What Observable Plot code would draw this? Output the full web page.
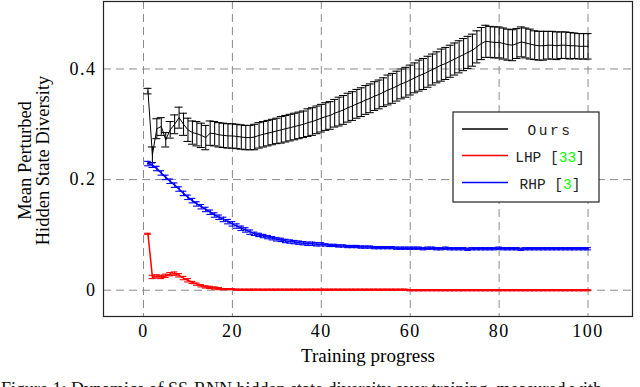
<!DOCTYPE html>
<html>
<head>
<meta charset="utf-8">
<script src="https://cdn.jsdelivr.net/npm/d3@7"></script>
<script src="https://cdn.jsdelivr.net/npm/@observablehq/plot@0.6"></script>
<style>
  html, body { margin: 0; padding: 0; background: #fff; overflow: hidden; }
  #chart svg { display: block; }
  #caption { font-family: "Liberation Serif", serif; font-size: 18px; line-height: 22px; margin: 6px 0 0 1px; white-space: nowrap; color: #111; }
</style>
</head>
<body>
<div id="chart"></div>
<div id="caption">Figure 1: Dynamics of SS-RNN hidden state diversity over training, measured with</div>
<script>
// ---- data ----
const steps = d3.range(1, 101); // training progress steps 1..100

const oursMean = [
  0.360, 0.245, 0.292, 0.296, 0.272, 0.290, 0.300, 0.312, 0.300, 0.290,
  0.285, 0.283, 0.280, 0.276, 0.284, 0.283, 0.281, 0.280, 0.279, 0.279,
  0.278, 0.277, 0.276, 0.276, 0.277, 0.280, 0.282, 0.284, 0.286, 0.288,
  0.290, 0.292, 0.294, 0.296, 0.298, 0.300, 0.303, 0.305, 0.308, 0.311,
  0.314, 0.316, 0.320, 0.323, 0.326, 0.330, 0.333, 0.337, 0.340, 0.344,
  0.347, 0.351, 0.354, 0.358, 0.362, 0.365, 0.369, 0.373, 0.376, 0.380,
  0.384, 0.388, 0.391, 0.395, 0.399, 0.403, 0.407, 0.410, 0.414, 0.418,
  0.422, 0.426, 0.430, 0.434, 0.440, 0.446, 0.450, 0.449, 0.448, 0.448,
  0.446, 0.444, 0.443, 0.446, 0.449, 0.447, 0.445, 0.443, 0.442, 0.442,
  0.443, 0.443, 0.442, 0.443, 0.443, 0.442, 0.442, 0.441, 0.441, 0.441
];
const oursErr = [
  0.005, 0.014, 0.018, 0.016, 0.013, 0.015, 0.017, 0.019, 0.020, 0.021,
  0.021, 0.022, 0.022, 0.022, 0.022, 0.022, 0.022, 0.022, 0.022, 0.022,
  0.022, 0.022, 0.022, 0.022, 0.023, 0.023, 0.023, 0.023, 0.023, 0.023,
  0.024, 0.024, 0.024, 0.024, 0.024, 0.024, 0.025, 0.025, 0.025, 0.025,
  0.025, 0.025, 0.025, 0.026, 0.026, 0.026, 0.026, 0.026, 0.026, 0.026,
  0.026, 0.026, 0.026, 0.026, 0.027, 0.027, 0.027, 0.027, 0.027, 0.027,
  0.027, 0.028, 0.028, 0.028, 0.028, 0.028, 0.029, 0.029, 0.029, 0.029,
  0.029, 0.029, 0.029, 0.029, 0.029, 0.029, 0.029, 0.028, 0.028, 0.028,
  0.028, 0.028, 0.028, 0.027, 0.027, 0.027, 0.027, 0.026, 0.026, 0.026,
  0.025, 0.025, 0.025, 0.024, 0.024, 0.024, 0.023, 0.023, 0.023, 0.023
];
const lhpMean = [
  0.102, 0.024, 0.025, 0.024, 0.026, 0.029, 0.030, 0.027, 0.022, 0.018,
  0.014, 0.011, 0.008, 0.006, 0.005, 0.004, 0.003, 0.002, 0.002, 0.002,
  0.001, 0.001, 0.001, 0.001, 0.001, 0.001, 0.001, 0.001, 0.001, 0.001,
  0.001, 0.001, 0.001, 0.001, 0.001, 0.001, 0.001, 0.001, 0.001, 0.001,
  0.001, 0.001, 0.001, 0.001, 0.001, 0.001, 0.001, 0.001, 0.001, 0.001,
  0.001, 0.001, 0.001, 0.001, 0.001, 0.001, 0.001, 0.001, 0.001, 0.000,
  0.000, 0.000, 0.000, 0.000, 0.000, 0.000, 0.000, 0.000, 0.000, 0.000,
  0.000, 0.000, 0.000, 0.000, 0.000, 0.000, 0.000, 0.000, 0.000, 0.000,
  0.000, 0.000, 0.000, 0.000, 0.000, 0.000, 0.000, 0.000, 0.000, 0.000,
  0.000, 0.000, 0.000, 0.000, 0.000, 0.000, 0.000, 0.000, 0.000, 0.000
];
const lhpErr = [
  0.001, 0.003, 0.003, 0.003, 0.003, 0.003, 0.003, 0.003, 0.003, 0.003,
  0.002, 0.002, 0.002, 0.002, 0.002, 0.002, 0.002, 0.001, 0.001, 0.001,
  0.001, 0.001, 0.001, 0.001, 0.001, 0.001, 0.001, 0.001, 0.001, 0.001,
  0.001, 0.001, 0.001, 0.001, 0.001, 0.001, 0.001, 0.001, 0.001, 0.001,
  0.001, 0.001, 0.001, 0.001, 0.001, 0.001, 0.001, 0.001, 0.001, 0.001,
  0.001, 0.001, 0.001, 0.001, 0.001, 0.001, 0.001, 0.001, 0.001, 0.001,
  0.001, 0.001, 0.001, 0.001, 0.001, 0.001, 0.001, 0.001, 0.001, 0.001,
  0.001, 0.001, 0.001, 0.001, 0.001, 0.001, 0.001, 0.001, 0.001, 0.001,
  0.001, 0.001, 0.001, 0.001, 0.001, 0.001, 0.001, 0.001, 0.001, 0.001,
  0.001, 0.001, 0.001, 0.001, 0.001, 0.001, 0.001, 0.001, 0.001, 0.001
];
const rhpMean = [
  0.229, 0.226, 0.220, 0.212, 0.204, 0.197, 0.190, 0.183, 0.175, 0.168,
  0.162, 0.156, 0.151, 0.146, 0.141, 0.136, 0.132, 0.128, 0.124, 0.120,
  0.116, 0.112, 0.109, 0.105, 0.102, 0.100, 0.098, 0.096, 0.094, 0.092,
  0.091, 0.089, 0.088, 0.087, 0.086, 0.085, 0.084, 0.084, 0.083, 0.083,
  0.082, 0.081, 0.081, 0.080, 0.080, 0.079, 0.079, 0.079, 0.078, 0.078,
  0.078, 0.077, 0.077, 0.077, 0.077, 0.077, 0.076, 0.076, 0.076, 0.076,
  0.076, 0.076, 0.075, 0.076, 0.076, 0.075, 0.075, 0.076, 0.075, 0.075,
  0.075, 0.075, 0.074, 0.075, 0.075, 0.075, 0.075, 0.075, 0.075, 0.076,
  0.075, 0.075, 0.075, 0.075, 0.074, 0.075, 0.075, 0.075, 0.075, 0.075,
  0.075, 0.075, 0.075, 0.075, 0.075, 0.075, 0.075, 0.075, 0.075, 0.075
];
const rhpErr = [
  0.004, 0.004, 0.004, 0.004, 0.004, 0.004, 0.004, 0.004, 0.004, 0.004,
  0.004, 0.004, 0.004, 0.004, 0.004, 0.004, 0.004, 0.004, 0.004, 0.004,
  0.004, 0.004, 0.004, 0.004, 0.003, 0.003, 0.003, 0.003, 0.003, 0.003,
  0.003, 0.003, 0.003, 0.003, 0.003, 0.003, 0.003, 0.003, 0.003, 0.003,
  0.002, 0.002, 0.002, 0.002, 0.002, 0.002, 0.002, 0.002, 0.002, 0.002,
  0.002, 0.002, 0.002, 0.002, 0.002, 0.002, 0.002, 0.002, 0.002, 0.002,
  0.002, 0.002, 0.002, 0.002, 0.002, 0.002, 0.002, 0.002, 0.002, 0.002,
  0.002, 0.002, 0.002, 0.002, 0.002, 0.002, 0.002, 0.002, 0.002, 0.002,
  0.002, 0.002, 0.002, 0.002, 0.002, 0.002, 0.002, 0.002, 0.002, 0.002,
  0.002, 0.002, 0.002, 0.002, 0.002, 0.002, 0.002, 0.002, 0.002, 0.002
];

const xTicks = [0, 20, 40, 60, 80, 100];
const yTicks = [0, 0.2, 0.4];
const seriesNames = ["Ours", "LHP", "RHP"];
const seriesRefs = [null, "33", "3"];
const seriesColors = ["#000000", "#ff0000", "#0000ff"];
const xLabel = "Training progress";
const yLabelLines = ["Mean Perturbed", "Hidden State Diversity"];

// ---- build ----
const mk = (mean, err) => steps.map((x, i) => ({x, y: mean[i], e: err[i]}));
const ours = mk(oursMean, oursErr);
const lhp = mk(lhpMean, lhpErr);
const rhp = mk(rhpMean, rhpErr);

function errSeries(rows, color, barW, lineW, cap) {
  return [
    Plot.ruleX(rows, {x: "x", y1: d => d.y - d.e, y2: d => d.y + d.e, stroke: color, strokeWidth: barW}),
    Plot.ruleY(rows, {y: d => d.y - d.e, x1: d => d.x - cap, x2: d => d.x + cap, stroke: color, strokeWidth: barW}),
    Plot.ruleY(rows, {y: d => d.y + d.e, x1: d => d.x - cap, x2: d => d.x + cap, stroke: color, strokeWidth: barW}),
    Plot.line(rows, {x: "x", y: "y", stroke: color, strokeWidth: lineW})
  ];
}

const W = 640, H = 372;
const mL = 103, mR = 8, mT = 1, mB = 56;
const tickStyle = {fontSize: 18, letterSpacing: "1.5px"};

const chart = Plot.plot({
  width: W, height: H,
  marginLeft: mL, marginRight: mR, marginTop: mT, marginBottom: mB,
  x: {domain: [-9, 110]},
  y: {domain: [-0.0475, 0.522]},
  style: {fontFamily: "'Liberation Serif', serif", fontSize: "18px", background: "#fff", color: "#000"},
  marks: [
    Plot.gridX(xTicks, {stroke: "#8a8a8a", strokeOpacity: 1, strokeDasharray: "8,5", strokeWidth: 1}),
    Plot.gridY(yTicks, {stroke: "#8a8a8a", strokeOpacity: 1, strokeDasharray: "8,5", strokeWidth: 1}),
    ...errSeries(ours, seriesColors[0], 1.05, 1, 0.9),
    ...errSeries(lhp, seriesColors[1], 1.1, 1.5, 0.75),
    ...errSeries(rhp, seriesColors[2], 1.1, 1.5, 0.75),
    Plot.frame({stroke: "#222", strokeWidth: 1.2}),
    Plot.axisX(xTicks, {tickSize: 0, tickPadding: 8, fontSize: 18, label: null, tickFormat: d => String(d)}),
    Plot.axisY(yTicks, {tickSize: 0, tickPadding: 7, fontSize: 18, label: null, tickFormat: d => String(d)}),
    Plot.text([xLabel], {frameAnchor: "bottom", dy: 39, fontSize: 19, lineAnchor: "middle"})
  ]
});
document.getElementById("chart").appendChild(chart);

// slight letter spacing on tick labels, as in the reference
d3.select(chart).selectAll("g[aria-label='x-axis tick label'] text, g[aria-label='y-axis tick label'] text")
  .attr("letter-spacing", tickStyle.letterSpacing);

// ---- y label and legend (text) ----
const svg = d3.select(chart);
const cy = (mT + (H - mB)) / 2;
const yl = svg.append("text")
  .attr("transform", `translate(31,${cy + 2}) rotate(-90)`)
  .attr("text-anchor", "middle")
  .attr("font-family", "'Liberation Serif', serif")
  .attr("font-size", 18.5)
  .attr("fill", "#000");
yl.append("tspan").attr("x", 0).attr("dy", 0).text(yLabelLines[0]);
yl.append("tspan").attr("x", 0).attr("dy", 17.5).text(yLabelLines[1]);

const lg = svg.append("g");
lg.append("rect").attr("x", 453).attr("y", 112).attr("width", 146).attr("height", 90)
  .attr("fill", "#fff").attr("stroke", "#222").attr("stroke-width", 1.2);
const rowY = [129, 155.5, 182.5];
seriesNames.forEach((name, i) => {
  lg.append("line").attr("x1", 462).attr("x2", 508).attr("y1", rowY[i]).attr("y2", rowY[i])
    .attr("stroke", seriesColors[i]).attr("stroke-width", 1.5);
  const t = lg.append("text").attr("x", 550).attr("y", rowY[i] + 6).attr("text-anchor", "middle")
    .attr("font-family", "'Liberation Mono', monospace").attr("font-size", 14.5).attr("fill", "#222");
  if (seriesRefs[i] === null) {
    t.attr("letter-spacing", 2.5).text(name);
  } else {
    t.append("tspan").text(name + " [");
    t.append("tspan").attr("fill", "#00ff00").text(seriesRefs[i]);
    t.append("tspan").text("]");
  }
});
</script>
</body>
</html>
